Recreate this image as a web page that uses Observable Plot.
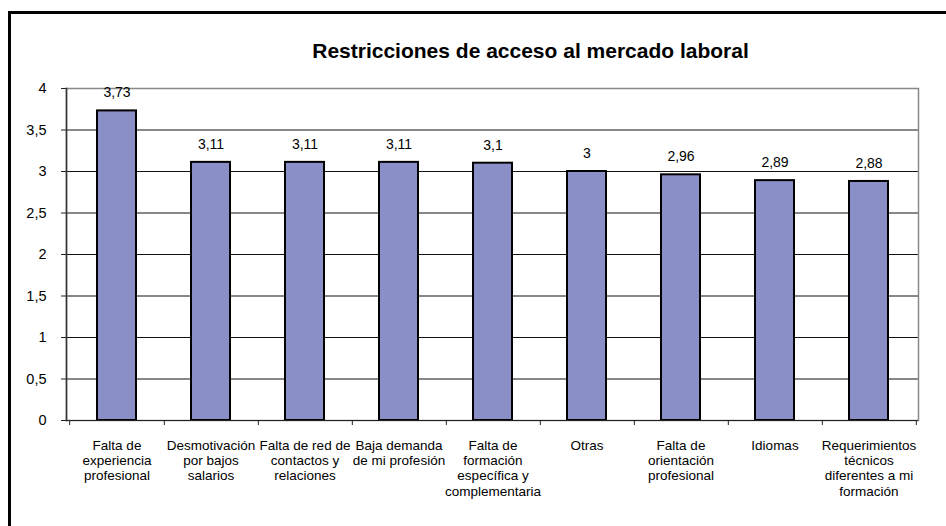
<!DOCTYPE html>
<html>
<head>
<meta charset="utf-8">
<script src="https://cdn.jsdelivr.net/npm/d3@7"></script>
<script src="https://cdn.jsdelivr.net/npm/@observablehq/plot@0.6"></script>
<style>
  html, body { margin: 0; padding: 0; background: #fff; }
  #wrap { position: relative; width: 946px; height: 526px; overflow: hidden; }
  #frame { position: absolute; left: 8px; top: 11px; width: 960px; height: 540px;
           border-top: 3px solid #000; border-left: 3px solid #000; box-sizing: border-box; }
  #chart { position: absolute; left: 0; top: 0; }
</style>
</head>
<body>
<div id="wrap"><div id="frame"></div><div id="chart"></div></div>
<script>
const title = "Restricciones de acceso al mercado laboral";
const categories = [
  "Falta de\nexperiencia\nprofesional",
  "Desmotivación\npor bajos\nsalarios",
  "Falta de red de\ncontactos y\nrelaciones",
  "Baja demanda\nde mi profesión",
  "Falta de\nformación\nespecífica y\ncomplementaria",
  "Otras",
  "Falta de\norientación\nprofesional",
  "Idiomas",
  "Requerimientos\ntécnicos\ndiferentes a mi\nformación"
];
const values = [3.73, 3.11, 3.11, 3.11, 3.1, 3, 2.96, 2.89, 2.88];
const yTicks = [0, 0.5, 1, 1.5, 2, 2.5, 3, 3.5, 4];

const fmt = d => String(d).replace(".", ",");
const data = categories.map((c, i) => ({cat: c, value: values[i]}));
const step = (946 - 66 - 28) / categories.length;

const chart = Plot.plot({
  width: 946,
  height: 526,
  marginLeft: 66,
  marginRight: 28,
  marginTop: 88,
  marginBottom: 106,
  style: {fontFamily: "'Liberation Sans', Arial, sans-serif", fontSize: "13px", color: "#000", background: "transparent", overflow: "visible"},
  x: {domain: categories, paddingInner: 0.59, paddingOuter: 0.295, label: null},
  y: {domain: [0, 4], label: null},
  marks: [
    Plot.ruleY(yTicks.filter(d => d > 0 && d < 4), {stroke: "#111", strokeWidth: 1}),
    Plot.frame({stroke: "#888", strokeWidth: 1.5}),
    Plot.frame({anchor: "left", stroke: "#333", strokeWidth: 1.5}),
    Plot.barY(data, {x: "cat", y: "value", fill: "#8B8FC7", stroke: "#000", strokeWidth: 2}),
    Plot.text(data, {x: "cat", y: "value", text: d => fmt(d.value), dy: -18, fontSize: 14, fill: "#000"}),
    Plot.axisY({ticks: yTicks, tickFormat: fmt, tickSize: 5, tickPadding: 15, fontSize: 14.5, stroke: "#222", label: null}),
    Plot.axisX({tickSize: 5, dx: step / 2, tickFormat: () => "", stroke: "#222", label: null}),
    Plot.axisX({ticks: [categories[0]], tickSize: 5, dx: -step / 2, tickFormat: () => "", stroke: "#222", label: null}),
    Plot.axisX({tickSize: 0, tickPadding: 19, fontSize: 13.5, lineHeight: 1.12, label: null}),
    Plot.ruleY([0], {stroke: "#222", strokeWidth: 1}),
    Plot.text([title], {frameAnchor: "top", dx: 38, dy: -45, fontSize: 21, fontWeight: "bold", fill: "#000"})
  ]
});
document.getElementById("chart").appendChild(chart);
</script>
</body>
</html>
